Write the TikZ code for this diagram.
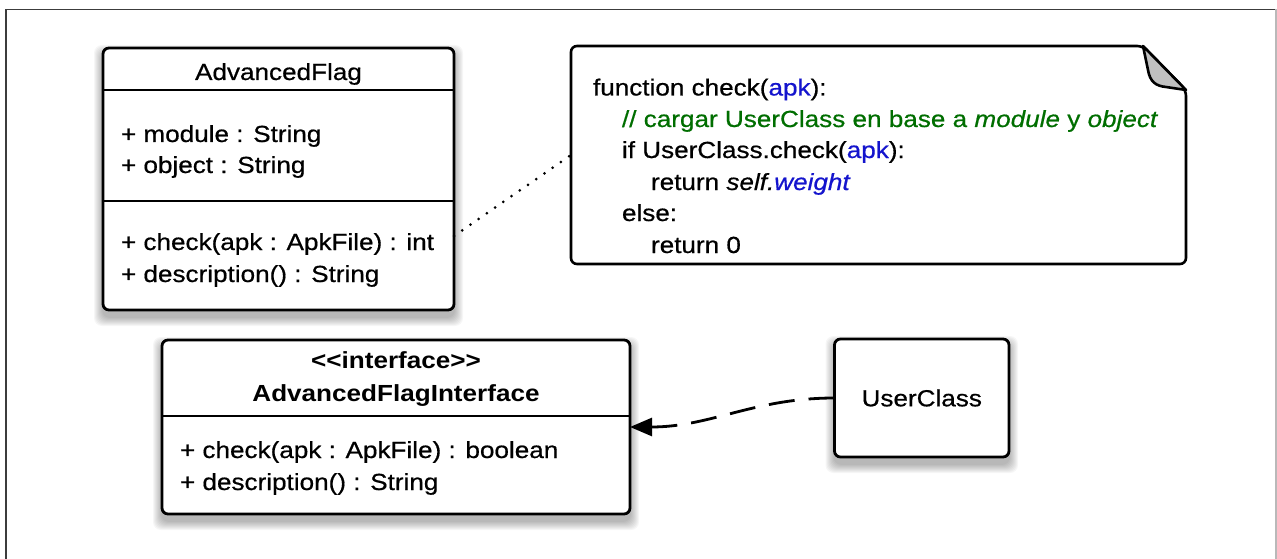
\documentclass[tikz,border=0pt]{standalone}
\usepackage{fontspec}
\setmainfont[FakeStretch=1.12,
  UprightFeatures={FakeBold=0.6},
  ItalicFeatures={FakeBold=0.6}]{Liberation Sans}
\usetikzlibrary{arrows.meta,backgrounds,calc}

\definecolor{codeblue}{RGB}{20,20,205}
\definecolor{codegreen}{RGB}{0,110,0}
\definecolor{foldgray}{RGB}{192,192,192}
\definecolor{framedark}{RGB}{60,60,60}
\definecolor{framelight}{RGB}{185,185,185}

\begin{document}
\begin{tikzpicture}[x=1pt,y=-1pt,
  every node/.style={font=\fontsize{23.3}{31}\selectfont, inner sep=0pt, outer sep=0pt},
  boldtext/.style={font=\fontsize{23.3}{31}\selectfont\bfseries},
  umlbox/.style={draw=black, line width=2.8pt, rounded corners=6pt, fill=white, anchor=north west},
  divider/.style={draw=black, line width=2.8pt},
  txt/.style={anchor=base west},
  title/.style={anchor=base},
  notelink/.style={line width=3pt, line cap=round, dash pattern=on 0pt off 10pt},
  realize/.style={line width=2.8pt, dash pattern=on 26pt off 14pt, -{Triangle[length=22pt,width=18pt]}}
]
\useasboundingbox (0,0) rectangle (1277,559);

% outer frame
\draw[framedark, line width=1.4pt] (6,559) -- (6,9.5) -- (1276,9.5);
\draw[framelight, line width=1.4pt] (1276,9.5) -- (1276,559);

% class AdvancedFlag
\node[umlbox, minimum width=351pt, minimum height=262pt] (flag) at (103,48) {};
\draw[divider] ([yshift=-42pt]flag.north west) -- ([yshift=-42pt]flag.north east);
\draw[divider] ([yshift=-153pt]flag.north west) -- ([yshift=-153pt]flag.north east);
\node[title] (flagname) at (278.5,80) {AdvancedFlag};
\node[txt] (fattr1) at (121,142) {+ module : String};
\node[txt] (fattr2) at (121,173) {+ object : String};
\node[txt] (fop1) at (121,250) {+ check(apk : ApkFile) : int};
\node[txt] (fop2) at (121,282) {+ description() : String};

% interface AdvancedFlagInterface
\node[umlbox, minimum width=468pt, minimum height=174pt] (iface) at (162,340) {};
\draw[divider] ([yshift=-76pt]iface.north west) -- ([yshift=-76pt]iface.north east);
\node[title, boldtext] (istereo) at (396,368) {{<}{<}interface{>}{>}};
\node[title, boldtext] (iname) at (396,401.5) {AdvancedFlagInterface};
\node[txt] (iop1) at (180,458) {+ check(apk : ApkFile) : boolean};
\node[txt] (iop2) at (180,490) {+ description() : String};

% class UserClass
\node[umlbox, minimum width=174.5pt, minimum height=118pt] (userc) at (834.5,339) {UserClass};

% note with folded corner
\node[anchor=north west, minimum width=615pt, minimum height=218pt] (note) at (571,46) {};
\draw[line width=2.6pt, fill=white, rounded corners=6pt]
  (1143,46) -- (571,46) -- (571,264) -- (1186,264) -- (1186,90) -- cycle;
\draw[line width=2.6pt, fill=foldgray, line join=round]
  (1143,46) -- (1148,70) .. controls (1150,82) and (1156,86) .. (1166,87) -- (1186,90) -- cycle;
\node[txt] (l1) at (593,95.5) {function check(\textcolor{codeblue}{apk}):};
\node[txt] (l2) at (622,127) {\color{codegreen}// cargar UserClass en base a \textit{module} y \textit{object}};
\node[txt] (l3) at (622,158) {if UserClass.check(\textcolor{codeblue}{apk}):};
\node[txt] (l4) at (651,190) {return \textit{self.\textcolor{codeblue}{weight}}};
\node[txt] (l5) at (622,221) {else:};
\node[txt] (l6) at (651,253) {return 0};

% connectors
\draw[notelink] ([yshift=-188pt]flag.north east) -- ([yshift=-109pt]note.north west);
\draw[realize] (userc.west) to[out=180,in=0] ([yshift=-87pt]iface.north east);

% soft shadows under the boxes
\begin{scope}[on background layer]
  \foreach \n in {flag,iface,userc} {
    \foreach \k in {1,...,9} {
      \fill[black, opacity=0.035, rounded corners=8pt]
        ([xshift=-\k pt, yshift={(\k-6)*1pt}]\n.north west) rectangle
        ([xshift=\k pt, yshift={-(\k+7)*1pt}]\n.south east);
    }
  }
\end{scope}
\end{tikzpicture}
\end{document}
